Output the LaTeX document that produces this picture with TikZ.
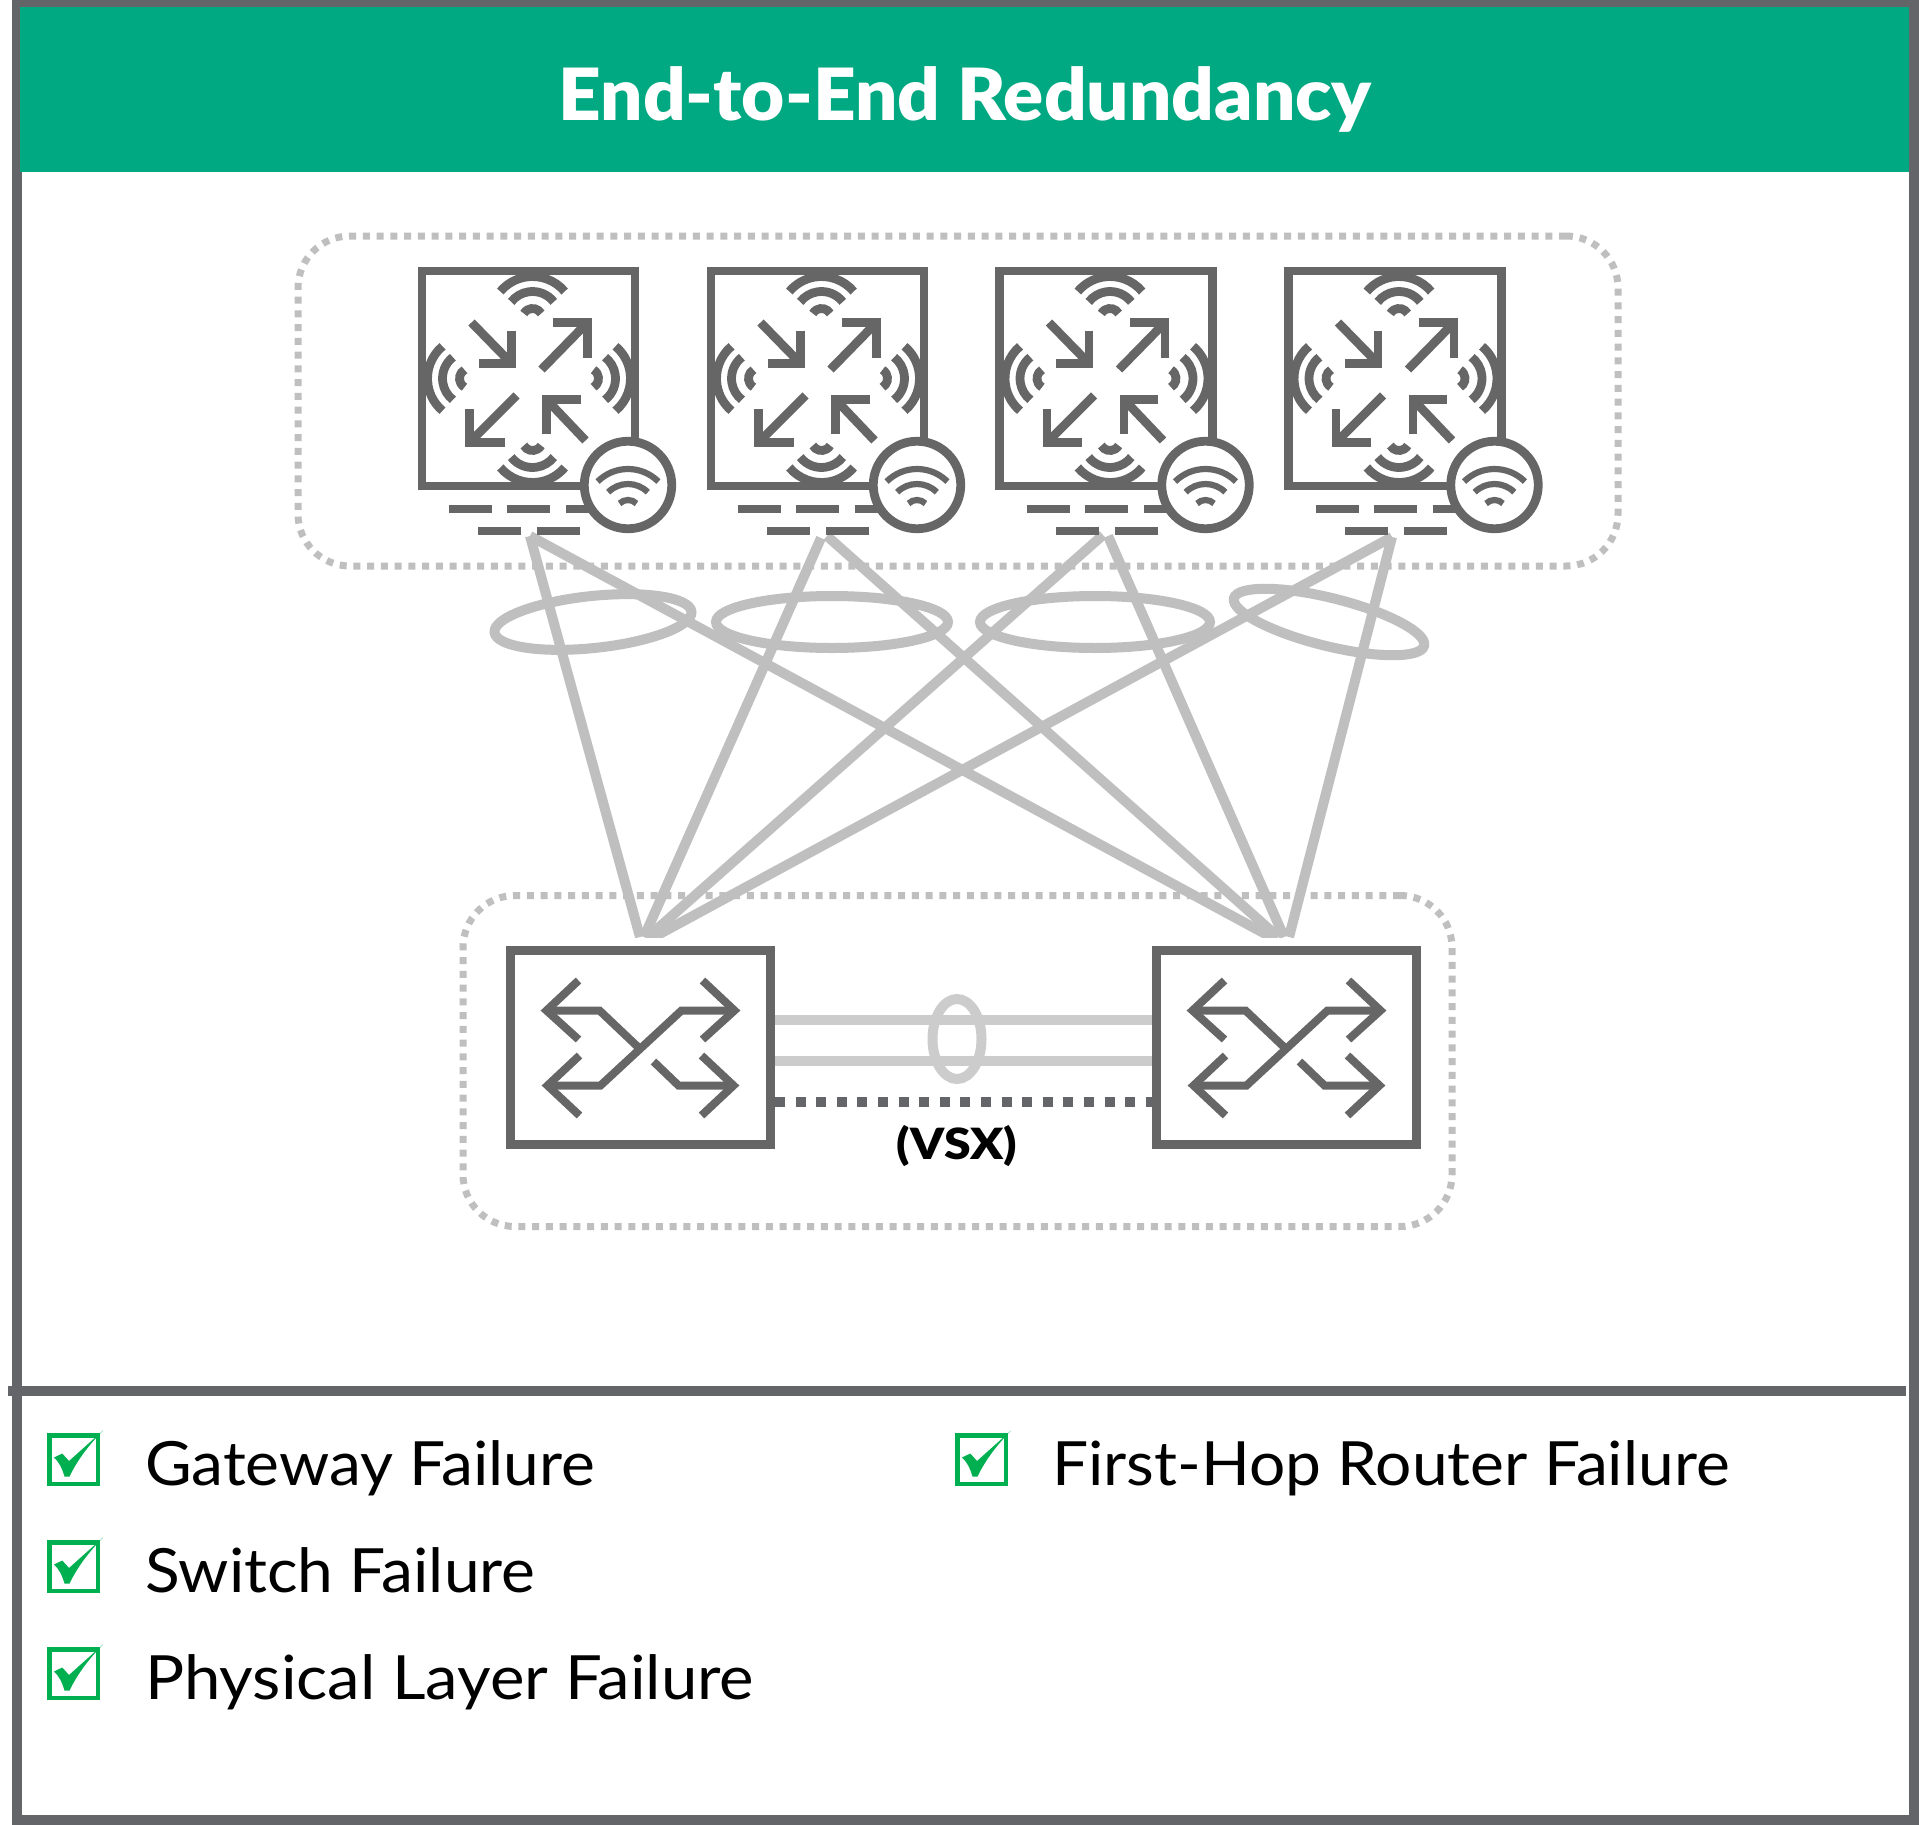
\documentclass[tikz,border=0pt]{standalone}
\usepackage{fontspec}
\setmainfont{Lato}
\newfontfamily\itemfont{Lato}[FakeStretch=1.05]
\newfontfamily\wideitemfont{Lato}[FakeStretch=1.07]
\newfontfamily\heavyfont{Lato Black}[FakeStretch=1.034]
\newfontfamily\vsxfont{Lato Black}[FakeStretch=1.12]
\usetikzlibrary{shapes.geometric}
\definecolor{framegray}{HTML}{646569}
\definecolor{icongray}{HTML}{666666}
\definecolor{linkgray}{HTML}{BFBFBF}
\definecolor{peergray}{HTML}{CCCCCC}
\definecolor{hpegreen}{HTML}{01A982}
\definecolor{checkgreen}{HTML}{00B050}
\tikzset{
  iconline/.style={draw=icongray,line width=8.8pt,line join=miter,line cap=butt},
  thinicon/.style={draw=icongray,line width=8pt,line join=miter,line cap=butt},
  apbox/.style={rectangle,draw=icongray,line width=8.8pt,minimum width=213pt,minimum height=215pt,inner sep=0pt,outer sep=0pt},
  swbox/.style={rectangle,draw=icongray,line width=8.8pt,minimum width=260.5pt,minimum height=194.5pt,inner sep=0pt,outer sep=0pt,fill=white},
  badge/.style={circle,draw=icongray,fill=white,line width=8.8pt,minimum size=87.5pt,inner sep=0pt,outer sep=0pt},
  groupbox/.style={rectangle,draw=linkgray,line width=7pt,dash pattern=on 7pt off 6.75pt,rounded corners=52pt,inner sep=0pt,outer sep=0pt},
  linkline/.style={draw=linkgray,line width=10pt,line cap=butt},
  lagring/.style={ellipse,draw=linkgray,line width=10pt,inner sep=0pt,outer sep=0pt},
  peerline/.style={draw=peergray,line width=10pt},
  vsxline/.style={draw=framegray,line width=10pt,dash pattern=on 10pt off 10.6pt},
  itemtext/.style={anchor=base west,inner sep=0pt,outer sep=0pt,text=black,font=\itemfont\fontsize{61}{70}\selectfont},
  checkbox/.style={rectangle,draw=checkgreen,line width=4.5pt,minimum size=48.5pt,inner sep=0pt,outer sep=0pt},
}
% three concentric wifi arcs: centre x, centre y, direction
\newcommand{\wifiarcs}[3]{%
  \foreach \rr/\ss in {10/60,27/52,42/50}
    \draw[iconline] (#1,#2) ++({#3-\ss}:\rr pt) arc[start angle={#3-\ss},end angle={#3+\ss},radius=\rr pt];
}
\newcommand{\accesspoint}[2]{%
  \node[apbox] (#1) at (#2,378.5) {};
  \begin{scope}[shift={(#2,378.5)}]
    \draw[iconline] (-57,-56) -- (-17,-15);
    \draw[iconline] (-17,-48) -- (-17,-15) -- (-50,-15) ;
    \draw[iconline] (13,-9) -- (58,-55);
    \draw[iconline] (24,-56) -- (59,-56) -- (59,-21);
    \draw[iconline] (-12,17) -- (-58,63);
    \draw[iconline] (-59,30) -- (-59,64) -- (-24,64);
    \draw[iconline] (18,21) -- (57,62);
    \draw[iconline] (18,55) -- (18,21) -- (52,21);
    \wifiarcs{4}{-60}{90}
    \wifiarcs{4}{62}{270}
    \wifiarcs{-59}{0}{180}
    \wifiarcs{60}{0}{0}
    \draw[iconline] (-79.5,130.5) -- (-36.5,130.5);
    \draw[iconline] (-21.5,130.5) -- (21.5,130.5);
    \draw[iconline] (37.5,130.5) -- (85,130.5);
    \draw[iconline] (-50.5,152.5) -- (-7.5,152.5);
    \draw[iconline] (8.5,152.5) -- (51.5,152.5);
    \node[badge] (#1badge) at (99.5,106.5) {};
    \begin{scope}[shift={(99.5,133.5)}]
      \foreach \rr in {12,28,43}
        \draw[draw=icongray,line width=6.2pt] (0,0) ++(45:\rr pt) arc[start angle=45,end angle=135,radius=\rr pt];
    \end{scope}
  \end{scope}
}
\newcommand{\switchicon}[2]{%
  \node[swbox] (#1) at (#2,1047.5) {};
  \begin{scope}[shift={(#2,1047.5)}]
    \draw[thinicon] (-62,-67) -- (-94,-37) -- (-62,-8);
    \draw[thinicon] (-94,-37) -- (-41,-37) -- (-2,0);
    \draw[thinicon] (62,-67) -- (94,-37) -- (62,-8);
    \draw[thinicon] (94,-37) -- (41,-37) -- (-40,38) -- (-94,38);
    \draw[thinicon] (-61,8) -- (-93,38) -- (-61,68);
    \draw[thinicon] (61,8) -- (93,38) -- (61,68);
    \draw[thinicon] (93,38) -- (38,38) -- (13,14);
  \end{scope}
}
\newcommand{\checkitem}[5]{% name, box x, box y, text x, text
  \node[checkbox,anchor=north west] (#1box) at (#2+2.25,#3+2.25) {};
  \fill[checkgreen] (#2+7,#3+24.5) -- (#2+15.3,#3+20.5) -- (#2+22,#3+28) -- (#2+56,#3-2.5)
     .. controls (#2+42,#3+12) and (#2+31,#3+26) .. (#2+22.5,#3+43.5) -- (#2+17.5,#3+43.5)
     .. controls (#2+15,#3+35) and (#2+12,#3+29) .. cycle;
  \node[itemtext] (#1) at (#4,#3+52.5) {#5};
}
\begin{document}
\begin{tikzpicture}[x=1pt,y=-1pt]
\useasboundingbox (0,0) rectangle (1919,1825);
\fill[white] (0,0) rectangle (1919,1825);
% outer frame
\fill[framegray] (12,0) rectangle (1919,1825);
\fill[white] (22,7) rectangle (1909,1815);
\node[rectangle,fill=hpegreen,inner sep=0pt,outer sep=0pt,minimum width=1889pt,minimum height=165pt] (banner) at (964.5,89.5) {};
\node[text=white,inner sep=0pt,font=\heavyfont\fontsize{72}{80}\selectfont] (title) at (965,99) {End-to-End Redundancy};
\fill[framegray] (8,1386) rectangle (1906,1396);
% dotted groups
\node[groupbox,minimum width=1320pt,minimum height=330pt] (apgroup) at (958,401) {};
\node[groupbox,minimum width=989pt,minimum height=331pt] (swgroup) at (957.5,1061) {};
% anchors of the links
\coordinate (a1) at (530,536);
\coordinate (a2l) at (821,538);
\coordinate (a2r) at (827,536);
\coordinate (a3l) at (1103,535);
\coordinate (a3r) at (1108,536);
\coordinate (a4) at (1392,537);
\coordinate (s1a) at (640,937);
\coordinate (s1b) at (644,937);
\coordinate (s1c) at (648,937);
\coordinate (s1d) at (654,937);
\coordinate (s2a) at (1271,937);
\coordinate (s2b) at (1278,937);
\coordinate (s2c) at (1284,937);
\coordinate (s2d) at (1289,937);
\begin{scope}
  \clip (300,530) rectangle (1500,937);
  \draw[linkline] (a1) -- (s1a);
  \draw[linkline] (a1) -- (s2a);
  \draw[linkline] (a2l) -- (s1b);
  \draw[linkline] (a2r) -- (s2b);
  \draw[linkline] (a3l) -- (s1c);
  \draw[linkline] (a3r) -- (s2c);
  \draw[linkline] (a4) -- (s1d);
  \draw[linkline] (a4) -- (s2d);
\end{scope}
\node[lagring,minimum width=198pt,minimum height=52pt,rotate=6] (lag1) at (593,622) {};
\node[lagring,minimum width=232pt,minimum height=52pt] (lag2) at (832,622) {};
\node[lagring,minimum width=230pt,minimum height=52pt] (lag3) at (1095,622) {};
\node[lagring,minimum width=196pt,minimum height=48pt,rotate=-14] (lag4) at (1329,622) {};
% access points
\accesspoint{ap1}{528.5}
\accesspoint{ap2}{817.5}
\accesspoint{ap3}{1106}
\accesspoint{ap4}{1395}
% switches
\coordinate (p1a) at (775,1020); \coordinate (p1b) at (1152,1020);
\coordinate (p2a) at (775,1061); \coordinate (p2b) at (1152,1061);
\coordinate (v1) at (775,1102); \coordinate (v2) at (1152,1102);
\draw[peerline] (p1a) -- (p1b);
\draw[peerline] (p2a) -- (p2b);
\draw[vsxline] (v1) -- (v2);
\node[ellipse,draw=peergray,line width=10pt,inner sep=0pt,outer sep=0pt,minimum width=49pt,minimum height=80pt] (peerlag) at (957,1039) {};
\switchicon{sw1}{640.5}
\switchicon{sw2}{1286.5}
\node[inner sep=0pt,font=\vsxfont\fontsize{43}{48}\selectfont] (vsx) at (957,1146) {(VSX)};
% legend
\checkitem{gw}{47}{1433}{145}{Gateway Failure}
\checkitem{swf}{47}{1540}{145}{Switch Failure}
\checkitem{phy}{47}{1647}{145}{\wideitemfont Physical Layer Failure}
\checkitem{fhr}{955}{1433}{1052}{First-Hop Router Failure}
\end{tikzpicture}
\end{document}
